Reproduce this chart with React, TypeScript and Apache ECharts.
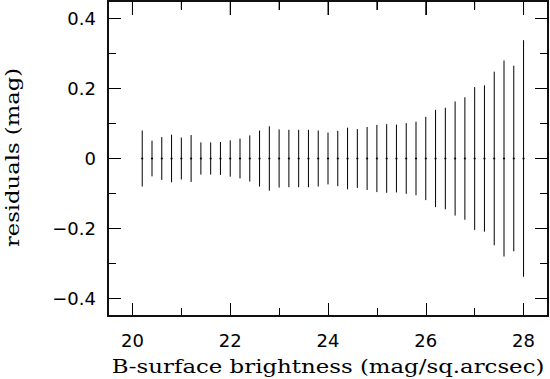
import React, { useEffect, useRef } from "react";
import * as echarts from "echarts";

const xValues = [
  20.2, 20.4, 20.6, 20.8, 21.0, 21.2, 21.4, 21.6, 21.8, 22.0,
  22.2, 22.4, 22.6, 22.8, 23.0, 23.2, 23.4, 23.6, 23.8, 24.0,
  24.2, 24.4, 24.6, 24.8, 25.0, 25.2, 25.4, 25.6, 25.8, 26.0,
  26.2, 26.4, 26.6, 26.8, 27.0, 27.2, 27.4, 27.6, 27.8, 28.0,
];
const residuals = [
  0, 0, 0, 0, 0, 0, 0, 0, 0, 0,
  0, 0, 0, 0, 0, 0, 0, 0, 0, 0,
  0, 0, 0, 0, 0, 0, 0, 0, 0, 0,
  0, 0, 0, 0, 0, 0, 0, 0, 0, 0,
];
const errors = [
  0.080, 0.051, 0.061, 0.068, 0.060, 0.067, 0.046, 0.046, 0.047, 0.052,
  0.057, 0.066, 0.080, 0.092, 0.083, 0.082, 0.082, 0.082, 0.080, 0.074,
  0.079, 0.088, 0.084, 0.090, 0.096, 0.098, 0.097, 0.101, 0.105, 0.119,
  0.139, 0.145, 0.163, 0.175, 0.204, 0.209, 0.248, 0.280, 0.265, 0.338,
];
const xMajorTicks = [20, 22, 24, 26, 28];
const xMinorTicks = [21, 23, 25, 27];
const yMajorTicks = [-0.4, -0.2, 0, 0.2, 0.4];
const yMinorTicks = [-0.3, -0.1, 0.1, 0.3];
const xTitle = "B-surface brightness (mag/sq.arcsec)";
const yTitle = "residuals (mag)";

const tickFont = "DejaVu Sans";
const titleFont = "DejaVu Serif";

const X_MIN = 19.5;
const X_MAX = 28.5;
const Y_MIN = -0.45;
const Y_MAX = 0.45;

function fmtY(v: number) {
  if (Math.abs(v) < 1e-9) return "0";
  const s = Math.abs(v).toFixed(1);
  return v < 0 ? "\u2212" + s : s;
}

function mkAxis(kind: "x" | "y", pos: string, ticks: number[], tickLen: number, label: boolean) {
  const axis: any = {
    type: "value",
    gridIndex: 0,
    position: pos,
    min: kind === "x" ? X_MIN : Y_MIN,
    max: kind === "x" ? X_MAX : Y_MAX,
    splitLine: { show: false },
    axisLine: { show: true, onZero: false, lineStyle: { color: "#111", width: 1.5 } },
    axisTick: {
      show: true,
      inside: true,
      length: tickLen,
      customValues: ticks,
      lineStyle: { color: "#000", width: 1 },
    },
    axisLabel: { show: false, customValues: ticks },
  };
  if (label) {
    axis.axisLabel = {
      show: true,
      customValues: ticks,
      margin: kind === "x" ? 15 : 12,
      fontFamily: tickFont,
      fontSize: 18,
      color: "#000",
      formatter: kind === "y" ? (v: number) => fmtY(v) : (v: number) => String(v),
    };
  }
  return axis;
}

export default function App() {
  const ref = useRef<HTMLDivElement>(null);
  useEffect(() => {
    document.body.style.margin = "0";
    const chart = echarts.init(ref.current!, null, { renderer: "svg" });
    const option: any = {
      animation: false,
      grid: {
        left: 108,
        top: 1,
        right: 2,
        bottom: 63,
        show: true,
        borderColor: "#111",
        borderWidth: 1.5,
        backgroundColor: "transparent",
      },
      xAxis: [
        mkAxis("x", "bottom", xMajorTicks, 13, true),
        mkAxis("x", "bottom", xMinorTicks, 8, false),
        mkAxis("x", "top", xMajorTicks, 14, false),
        mkAxis("x", "top", xMinorTicks, 9, false),
      ],
      yAxis: [
        mkAxis("y", "left", yMajorTicks, 13, true),
        mkAxis("y", "left", yMinorTicks, 8, false),
        mkAxis("y", "right", yMajorTicks, 13, false),
        mkAxis("y", "right", yMinorTicks, 8, false),
      ],
      graphic: [
        {
          id: "xtitle",
          type: "text",
          x: 328,
          y: 367,
          scaleX: 1.27,
          style: {
            text: xTitle,
            fontFamily: titleFont,
            fontSize: 18,
            fill: "#000",
            align: "center",
            verticalAlign: "middle",
          },
        },
        {
          id: "ytitle",
          type: "text",
          x: 13,
          y: 157.5,
          rotation: Math.PI / 2,
          scaleX: 1.26,
          style: {
            text: yTitle,
            fontFamily: titleFont,
            fontSize: 18,
            fill: "#000",
            align: "center",
            verticalAlign: "middle",
          },
        },
      ],
      series: [
        {
          type: "custom",
          xAxisIndex: 0,
          yAxisIndex: 0,
          data: xValues.map((x, i) => [x, residuals[i], errors[i]]),
          renderItem: (params: any, api: any) => {
            const x = api.value(0);
            const r = api.value(1);
            const e = api.value(2);
            const top = api.coord([x, r + e]);
            const bot = api.coord([x, r - e]);
            const c = api.coord([x, r]);
            return {
              type: "group",
              children: [
                {
                  type: "line",
                  shape: { x1: top[0], y1: top[1], x2: bot[0], y2: bot[1] },
                  style: { stroke: "#000", lineWidth: 1 },
                },
                {
                  type: "line",
                  shape: { x1: c[0] - 1, y1: c[1], x2: c[0] + 1, y2: c[1] },
                  style: { stroke: "#000", lineWidth: 1.5 },
                },
              ],
            };
          },
        },
      ],
    };
    chart.setOption(option);

    // Frame and mirrored top/right ticks, placed through the grid's own scales.
    try {
      const px = (v: number[]) => chart.convertToPixel({ gridIndex: 0 }, v) as number[];
      const tl = px([X_MIN, Y_MAX]);
      const br = px([X_MAX, Y_MIN]);
      const extra: any[] = [
        {
          id: "frame",
          type: "rect",
          z: 100,
          silent: true,
          shape: { x: tl[0], y: tl[1], width: br[0] - tl[0], height: br[1] - tl[1] },
          style: { fill: "none", stroke: "#111", lineWidth: 1.5 },
        },
      ];
      const addTop = (vals: number[], len: number, tag: string) =>
        vals.forEach((v, i) => {
          const p = px([v, Y_MAX]);
          extra.push({
            id: "t" + tag + i,
            type: "line",
            z: 100,
            silent: true,
            shape: { x1: p[0], y1: p[1], x2: p[0], y2: p[1] + len },
            style: { stroke: "#000", lineWidth: 1 },
          });
        });
      const addRight = (vals: number[], len: number, tag: string) =>
        vals.forEach((v, i) => {
          const p = px([X_MAX, v]);
          extra.push({
            id: "r" + tag + i,
            type: "line",
            z: 100,
            silent: true,
            shape: { x1: p[0], y1: p[1], x2: p[0] - len, y2: p[1] },
            style: { stroke: "#000", lineWidth: 1 },
          });
        });
      addTop(xMajorTicks, 14, "M");
      addTop(xMinorTicks, 9, "m");
      addRight(yMajorTicks, 13, "M");
      addRight(yMinorTicks, 8, "m");
      if (isFinite(tl[0]) && isFinite(br[0])) {
        chart.setOption({ graphic: extra });
      }
    } catch (e) {
      // keep the axes-drawn frame
    }
    return () => chart.dispose();
  }, []);
  return <div ref={ref} style={{ width: 550, height: 379 }} />;
}
